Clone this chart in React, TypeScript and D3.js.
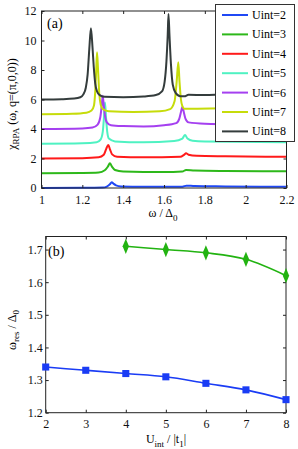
import { useEffect, useRef } from "react";
import * as d3 from "d3";

// panel (a): chi_RPA curves, one [omega, value] list per Uint
const uintLabels = ["Uint=2", "Uint=3", "Uint=4", "Uint=5", "Uint=6", "Uint=7", "Uint=8"];
const curveColors = ["#1f48f5", "#2db81a", "#ff1a1a", "#4ff2c2", "#a540f0", "#c6dc0a", "#343c3c"];

const chiU2: [number, number][] = [
  [1.0, 0.0], [1.2, 0.01], [1.3, 0.03], [1.32, 0.1], [1.335, 0.25], [1.344, 0.39], [1.352, 0.3],
  [1.365, 0.18], [1.39, 0.11], [1.5, 0.08], [1.69, 0.09], [1.71, 0.16], [1.75, 0.13], [1.9, 0.11], [2.2, 0.08],
];
const chiU3: [number, number][] = [
  [1.0, 1.0], [1.2, 1.02], [1.28, 1.05], [1.31, 1.2], [1.325, 1.45], [1.335, 1.67], [1.345, 1.45],
  [1.36, 1.22], [1.4, 1.12], [1.6, 1.08], [1.69, 1.12], [1.708, 1.22], [1.75, 1.18], [1.9, 1.15], [2.2, 1.13],
];
const chiU4: [number, number][] = [
  [1.0, 2.0], [1.2, 2.02], [1.28, 2.08], [1.305, 2.25], [1.317, 2.65], [1.327, 2.92], [1.336, 2.6],
  [1.346, 2.28], [1.37, 2.12], [1.5, 2.08], [1.68, 2.12], [1.698, 2.25], [1.708, 2.35], [1.72, 2.26],
  [1.76, 2.18], [1.9, 2.15], [2.2, 2.12],
];
const chiU5: [number, number][] = [
  [1.0, 3.0], [1.2, 3.03], [1.27, 3.1], [1.29, 3.3], [1.3, 3.8], [1.306, 4.8], [1.311, 5.8],
  [1.316, 4.8], [1.322, 3.8], [1.33, 3.35], [1.36, 3.16], [1.5, 3.1], [1.65, 3.18], [1.69, 3.35],
  [1.703, 3.6], [1.715, 3.35], [1.74, 3.2], [1.8, 3.15], [2.2, 3.1],
];
const chiU6: [number, number][] = [
  [1.0, 4.0], [1.2, 4.04], [1.25, 4.1], [1.275, 4.3], [1.288, 4.8], [1.295, 5.6], [1.3, 6.26],
  [1.305, 5.6], [1.311, 4.9], [1.32, 4.45], [1.34, 4.26], [1.4, 4.2], [1.5, 4.17], [1.6, 4.25],
  [1.66, 4.4], [1.675, 4.7], [1.684, 5.2], [1.69, 5.5], [1.696, 5.2], [1.705, 4.7], [1.72, 4.45],
  [1.8, 4.36], [2.0, 4.32], [2.2, 4.3],
];
const chiU7: [number, number][] = [
  [1.0, 5.0], [1.15, 5.03], [1.22, 5.1], [1.245, 5.25], [1.257, 5.6], [1.263, 6.5], [1.268, 8.0],
  [1.272, 9.2], [1.277, 8.0], [1.283, 6.4], [1.29, 5.65], [1.3, 5.36], [1.33, 5.2], [1.45, 5.15],
  [1.58, 5.2], [1.63, 5.35], [1.652, 5.9], [1.662, 7.2], [1.67, 8.52], [1.676, 7.2], [1.683, 6.0],
  [1.69, 5.55], [1.7, 5.38], [1.75, 5.38], [1.9, 5.4], [2.2, 5.4],
];
const chiU8: [number, number][] = [
  [1.0, 6.0], [1.1, 6.02], [1.16, 6.06], [1.19, 6.15], [1.205, 6.35], [1.217, 6.8], [1.226, 7.7],
  [1.234, 9.4], [1.242, 10.83], [1.25, 9.5], [1.256, 8.2], [1.263, 7.1], [1.272, 6.55], [1.285, 6.3],
  [1.31, 6.18], [1.4, 6.15], [1.5, 6.2], [1.56, 6.3], [1.59, 6.55], [1.603, 7.2], [1.612, 8.6],
  [1.618, 10.3], [1.622, 11.8], [1.627, 10.3], [1.634, 8.4], [1.643, 7.0], [1.657, 6.45], [1.68, 6.22],
  [1.7, 6.22], [1.72, 6.32], [1.8, 6.3], [1.9, 6.35], [2.2, 6.35],
];
const chiCurves = [chiU2, chiU3, chiU4, chiU5, chiU6, chiU7, chiU8];

const omegaTicks = [1, 1.2, 1.4, 1.6, 1.8, 2, 2.2];
const chiTicks = [0, 2, 4, 6, 8, 10, 12];

// panel (b): resonance positions vs U_int
const uLow = [2, 3, 4, 5, 6, 7, 8];
const resLow = [1.34, 1.33, 1.32, 1.31, 1.29, 1.27, 1.24];
const uHigh = [4, 5, 6, 7, 8];
const resHigh = [1.71, 1.7, 1.69, 1.67, 1.62];
const uTicks = [2, 3, 4, 5, 6, 7, 8];
const resTicks = [1.2, 1.3, 1.4, 1.5, 1.6, 1.7];

const FONT = "'Liberation Serif', 'DejaVu Serif', serif";

export default function App() {
  const svgRef = useRef<SVGSVGElement | null>(null);

  useEffect(() => {
    if (!svgRef.current) return;
    const svg = d3.select(svgRef.current);
    svg.selectAll("*").remove();
    svg.attr("font-family", FONT);

    // ---------- panel (a) ----------
    const xa = d3.scaleLinear().domain([1, 2.2]).range([41.5, 286.5]);
    const ya = d3.scaleLinear().domain([0, 12]).range([188, 11]);

    const line = d3
      .line<[number, number]>()
      .x((d) => xa(d[0]))
      .y((d) => ya(d[1]))
      .curve(d3.curveMonotoneX);

    const ga = svg.append("g");
    chiCurves.forEach((c, i) => {
      ga.append("path")
        .attr("d", line(c))
        .attr("fill", "none")
        .attr("stroke", curveColors[i])
        .attr("stroke-width", 2);
    });

    const styleAxis = (g: d3.Selection<SVGGElement, unknown, null, undefined>) => {
      g.select(".domain").remove();
      g.selectAll("line").attr("stroke", "#222");
      g.selectAll("text").attr("font-size", 12).attr("fill", "#111").attr("font-family", FONT);
    };

    ga.append("g")
      .attr("transform", `translate(0,${ya(0)})`)
      .call(d3.axisBottom(xa).tickValues(omegaTicks).tickSizeInner(-3).tickSizeOuter(0).tickPadding(7).tickFormat(d3.format("")))
      .call(styleAxis);
    ga.append("g")
      .attr("transform", `translate(0,${ya(12)})`)
      .call(d3.axisTop(xa).tickValues(omegaTicks).tickSizeInner(-3).tickSizeOuter(0).tickFormat(() => ""))
      .call(styleAxis);
    ga.append("g")
      .attr("transform", `translate(${xa(1)},0)`)
      .call(d3.axisLeft(ya).tickValues(chiTicks).tickSizeInner(-3).tickSizeOuter(0).tickPadding(5))
      .call(styleAxis);
    ga.append("g")
      .attr("transform", `translate(${xa(2.2)},0)`)
      .call(d3.axisRight(ya).tickValues(chiTicks).tickSizeInner(-3).tickSizeOuter(0).tickFormat(() => ""))
      .call(styleAxis);
    ga.append("rect")
      .attr("x", xa(1))
      .attr("y", ya(12))
      .attr("width", xa(2.2) - xa(1))
      .attr("height", ya(0) - ya(12))
      .attr("fill", "none")
      .attr("stroke", "#222")
      .attr("stroke-width", 1);

    ga.append("text").attr("x", 47).attr("y", 28).attr("font-size", 14).text("(a)");

    // y label (a)
    const yla = ga.append("text")
      .attr("transform", "translate(16,104) rotate(-90)")
      .attr("text-anchor", "middle")
      .attr("font-size", 12);
    yla.append("tspan").text("\u03c7");
    yla.append("tspan").attr("font-size", 9).attr("dy", 3).text("RPA");
    yla.append("tspan").attr("dy", -3).text(" (\u03c9, q=(\u03c0,0,0))");

    // x label (a)
    const xla = ga.append("text").attr("x", 163).attr("y", 217).attr("text-anchor", "middle").attr("font-size", 12);
    xla.append("tspan").text("\u03c9 / \u0394");
    xla.append("tspan").attr("font-size", 9).attr("dy", 4).text("0");

    // legend
    const lg = ga.append("g");
    lg.append("rect")
      .attr("x", 215.5).attr("y", 4.5).attr("width", 79).attr("height", 137)
      .attr("fill", "#fff").attr("stroke", "#333").attr("stroke-width", 1);
    uintLabels.forEach((lab, i) => {
      const yy = 15 + i * 19.4;
      lg.append("line").attr("x1", 222).attr("x2", 248).attr("y1", yy).attr("y2", yy)
        .attr("stroke", curveColors[i]).attr("stroke-width", 2);
      lg.append("text").attr("x", 252).attr("y", yy + 4).attr("font-size", 12).text(lab);
    });

    // ---------- panel (b) ----------
    const xb = d3.scaleLinear().domain([2, 8]).range([45.7, 286]);
    const yb = d3.scaleLinear().domain([1.2, 1.74]).range([412.7, 236.5]);
    const gb = svg.append("g");

    gb.append("g")
      .attr("transform", `translate(0,${yb(1.2)})`)
      .call(d3.axisBottom(xb).tickValues(uTicks).tickSizeInner(-3).tickSizeOuter(0).tickPadding(7).tickFormat(d3.format("d")))
      .call(styleAxis);
    gb.append("g")
      .attr("transform", `translate(0,${yb(1.74)})`)
      .call(d3.axisTop(xb).tickValues(uTicks).tickSizeInner(-3).tickSizeOuter(0).tickFormat(() => ""))
      .call(styleAxis);
    gb.append("g")
      .attr("transform", `translate(${xb(2)},0)`)
      .call(d3.axisLeft(yb).tickValues(resTicks).tickSizeInner(-3).tickSizeOuter(0).tickPadding(3).tickFormat(d3.format(".1f")))
      .call(styleAxis);
    gb.append("g")
      .attr("transform", `translate(${xb(8)},0)`)
      .call(d3.axisRight(yb).tickValues(resTicks).tickSizeInner(-3).tickSizeOuter(0).tickFormat(() => ""))
      .call(styleAxis);
    gb.append("rect")
      .attr("x", xb(2)).attr("y", yb(1.74))
      .attr("width", xb(8) - xb(2)).attr("height", yb(1.2) - yb(1.74))
      .attr("fill", "none").attr("stroke", "#222").attr("stroke-width", 1);

    const lowPts = uLow.map((u, i) => [xb(u), yb(resLow[i])] as [number, number]);
    const highPts = uHigh.map((u, i) => [xb(u), yb(resHigh[i])] as [number, number]);
    const blue = "#1a3cf5";
    const green = "#22b311";
    gb.append("path")
      .attr("d", d3.line().curve(d3.curveMonotoneX)(lowPts))
      .attr("fill", "none").attr("stroke", blue).attr("stroke-width", 1.6);
    gb.append("path")
      .attr("d", d3.line().curve(d3.curveMonotoneX)(highPts))
      .attr("fill", "none").attr("stroke", green).attr("stroke-width", 1.6);

    const sq = d3.symbol().type(d3.symbolSquare).size(50);
    gb.selectAll(".sq")
      .data(lowPts)
      .enter()
      .append("path")
      .attr("transform", (d) => `translate(${d[0]},${d[1]})`)
      .attr("d", sq()!)
      .attr("fill", blue);
    gb.selectAll(".dm")
      .data(highPts)
      .enter()
      .append("path")
      .attr("transform", (d) => `translate(${d[0]},${d[1]}) scale(0.8,1.1)`)
      .attr("d", d3.symbol().type(d3.symbolDiamond).size(55)()!)
      .attr("fill", green);

    gb.append("text").attr("x", 48).attr("y", 256).attr("font-size", 14).text("(b)");

    const ylb = gb.append("text")
      .attr("transform", "translate(16,330) rotate(-90)")
      .attr("text-anchor", "middle")
      .attr("font-size", 12);
    ylb.append("tspan").text("\u03c9");
    ylb.append("tspan").attr("font-size", 9).attr("dy", 3).text("res");
    ylb.append("tspan").attr("dy", -3).text(" / \u0394");
    ylb.append("tspan").attr("font-size", 9).attr("dy", 3).text("0");

    const xlb = gb.append("text").attr("x", 166).attr("y", 443).attr("text-anchor", "middle").attr("font-size", 12);
    xlb.append("tspan").text("U");
    xlb.append("tspan").attr("font-size", 9).attr("dy", 4).text("int");
    xlb.append("tspan").attr("dy", -4).text(" / |t");
    xlb.append("tspan").attr("font-size", 9).attr("dy", 4).text("1");
    xlb.append("tspan").attr("dy", -4).text("|");
  }, []);

  return (
    <svg
      ref={svgRef}
      width={298}
      height={449}
      style={{ position: "absolute", left: 0, top: 0, background: "#fff" }}
    />
  );
}
